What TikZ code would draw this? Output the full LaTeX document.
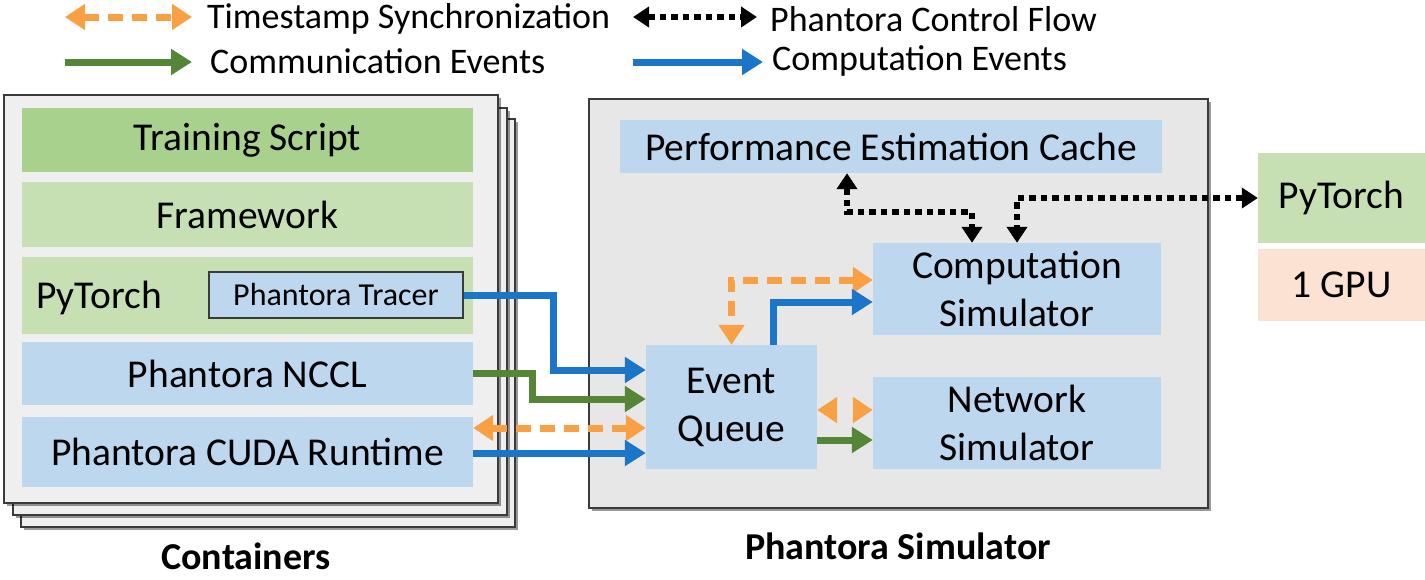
\documentclass[tikz,border=0pt]{standalone}
\usepackage{fontspec}
\setmainfont{Carlito}
\usetikzlibrary{arrows.meta,shadows}
\definecolor{orng}{HTML}{F8A043}
\definecolor{blu}{HTML}{1B75C8}
\definecolor{grn}{HTML}{558536}
\definecolor{lgrn}{HTML}{C6E0B4}
\definecolor{dgrn}{HTML}{A9D18E}
\definecolor{lblu}{HTML}{BDD7EE}
\definecolor{peach}{HTML}{FBE2D3}
\definecolor{contgray}{HTML}{EFEFEF}
\definecolor{simgray}{HTML}{E7E7E7}
\definecolor{edge}{HTML}{3A3A3A}
\begin{document}
\begin{tikzpicture}[x=1pt,y=-1pt,
  txt/.style={font=\fontsize{39.5}{48}\selectfont, align=center},
  box/.style={rectangle, inner sep=0pt, draw=none, txt},
  layer/.style={rectangle, inner sep=0pt, fill=contgray, draw=edge, line width=1.8pt,
    drop shadow={shadow xshift=3pt, shadow yshift=-3pt, fill=black, opacity=0.4}},
  simbox/.style={rectangle, inner sep=0pt, fill=simgray, draw=edge, line width=1.8pt,
    drop shadow={shadow xshift=3pt, shadow yshift=-3pt, fill=black, opacity=0.4}},
  bluearr/.style={draw=blu, line width=7pt, -{Triangle[length=21pt,width=25pt]}},
  grnarr/.style={draw=grn, line width=7pt, -{Triangle[length=21pt,width=25pt]}},
  orarr/.style={draw=orng, line width=7pt, dash pattern=on 15pt off 9pt,
    {Triangle[length=20pt,width=25pt]}-{Triangle[length=20pt,width=25pt]}},
  orheads/.style={orarr, dash pattern=on 0pt off 40pt},
  ctlarr/.style={draw=black, line width=6.5pt, dash pattern=on 6.5pt off 5pt,
    {Triangle[length=16pt,width=20pt]}-{Triangle[length=16pt,width=20pt]}},
  legtxt/.style={anchor=west, inner sep=0pt, font=\fontsize{36}{40}\selectfont},
  caption/.style={inner sep=0pt, font=\fontsize{38}{44}\selectfont\bfseries}
]
\useasboundingbox (0,0) rectangle (1425,579);

% ---------- legend ----------
\coordinate (la1) at (65,17);  \coordinate (lb1) at (192,17);
\coordinate (la2) at (65,62);  \coordinate (lb2) at (192,62);
\coordinate (la3) at (633,17); \coordinate (lb3) at (757,17);
\coordinate (la4) at (633,62); \coordinate (lb4) at (763,62);
\draw[orarr] (la1) -- (lb1);
\draw[grnarr] (la2) -- (lb2);
\draw[ctlarr] (la3) -- (lb3);
\draw[bluearr] (la4) -- (lb4);
\node[legtxt] (lt1) at (207,19) {Timestamp Synchronization};
\node[legtxt] (lt2) at (210,61) {Communication Events};
\node[legtxt] (lt3) at (770,19) {Phantora Control Flow};
\node[legtxt] (lt4) at (772,61) {Computation Events};

% ---------- containers ----------
\node[layer, minimum width=494pt, minimum height=408pt] (c3) at (268,323) {};
\node[layer, minimum width=494pt, minimum height=407pt] (c2) at (260,311.5) {};
\node[layer, minimum width=494pt, minimum height=408pt] (c1) at (251,299) {};

\node[box, fill=dgrn, minimum width=451pt, minimum height=64pt] (train) at (247.5,140) {Training Script};
\node[box, fill=lgrn, minimum width=451pt, minimum height=65pt] (frame) at (247.5,214.5) {Framework};
\node[box, fill=lgrn, minimum width=451pt, minimum height=77pt] (pyt) at (247.5,295.5) {};
\node[txt, anchor=west, inner sep=0pt] (pytl) at (36,298) {PyTorch};
\node[rectangle, inner sep=0pt, fill=lblu, draw=edge, line width=1.8pt,
  minimum width=254pt, minimum height=46pt, font=\fontsize{32}{36}\selectfont] (tracer) at (336,295) {Phantora Tracer};
\node[box, fill=lblu, minimum width=451pt, minimum height=63pt] (nccl) at (247.5,373.5) {Phantora NCCL};
\node[box, fill=lblu, minimum width=451pt, minimum height=70pt] (cuda) at (247.5,452) {Phantora CUDA Runtime};
\node[caption] (contl) at (246,556) {Containers};

% ---------- simulator ----------
\node[simbox, minimum width=619pt, minimum height=409pt] (sim) at (898.5,303.5) {};
\node[box, fill=lblu, minimum width=542pt, minimum height=53pt] (cache) at (891,146.5) {Performance Estimation Cache};
\node[box, fill=lblu, minimum width=288pt, minimum height=92pt] (comp) at (1017,289) {Computation\\Simulator};
\node[box, fill=lblu, minimum width=288pt, minimum height=92pt] (net) at (1017,423) {Network\\Simulator};
\node[box, fill=lblu, minimum width=171pt, minimum height=124pt] (eq) at (731.5,407) {Event\\Queue};
\node[caption] (siml) at (898,546) {Phantora Simulator};

% ---------- single GPU ----------
\node[box, fill=lgrn, minimum width=167pt, minimum height=90pt] (pt2) at (1341.5,198) {PyTorch};
\node[box, fill=peach, minimum width=167pt, minimum height=72pt] (gpu) at (1341.5,285) {1 GPU};

% ---------- connectors ----------
\draw[bluearr] (tracer.east) -- ++(90,0) |- ([yshift=37pt]eq.west);
\draw[grnarr] (nccl.east) -- ++(59,0) |- ([yshift=8pt]eq.west);
\draw[orarr] ([yshift=24pt]cuda.east) -- ([yshift=-21pt]eq.west);
\draw[bluearr] ([yshift=-1pt]cuda.east) -- ([yshift=-46pt]eq.west);

\draw[orarr] ([yshift=9pt]comp.west) -| (eq.north);
\draw[bluearr] ([xshift=41.5pt]eq.north) |- ([yshift=-13pt]comp.west);
\draw[orheads] ([yshift=-3pt]eq.east) -- ([yshift=13pt]net.west);
\draw[grnarr] ([yshift=-33pt]eq.east) -- ([yshift=-17pt]net.west);

\draw[ctlarr] ([xshift=-44pt]cache.south) -- ++(0,39) -| ([xshift=-45pt]comp.north);
\draw[ctlarr] (pt2.west) -| (comp.north);
\end{tikzpicture}
\end{document}
